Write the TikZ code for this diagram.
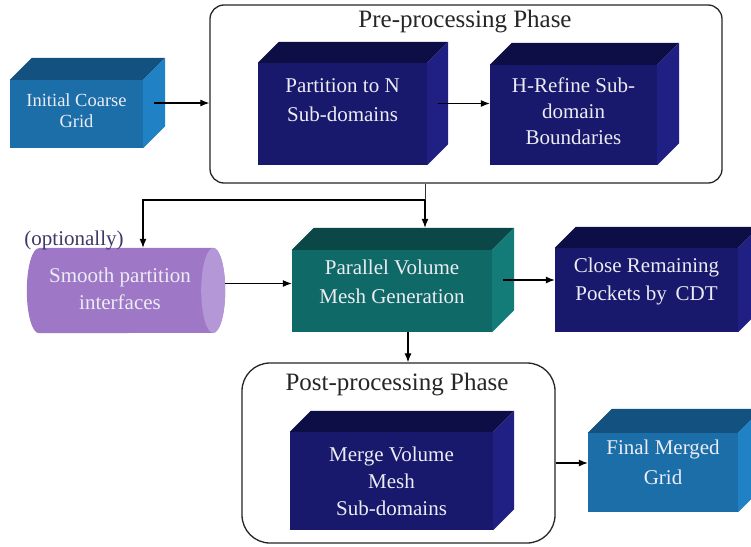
\documentclass[tikz,border=0pt]{standalone}
\usepackage{fontspec}
\setmainfont{Liberation Serif}
\usetikzlibrary{arrows.meta,calc}

% palettes: F = front face, T = top face, S = side face
\definecolor{navyF}{HTML}{18186C}
\definecolor{navyT}{HTML}{0E0E46}
\definecolor{navyS}{HTML}{1F1F84}
\definecolor{tealF}{HTML}{0F6966}
\definecolor{tealT}{HTML}{0A4746}
\definecolor{tealS}{HTML}{137C78}
\definecolor{skyF}{HTML}{1B6EA8}
\definecolor{skyT}{HTML}{135280}
\definecolor{skyS}{HTML}{2082C4}
\definecolor{lilacB}{HTML}{9E78C6}
\definecolor{lilacE}{HTML}{B497D6}
\definecolor{optcol}{HTML}{3E3868}
\definecolor{boxtxt}{HTML}{ECECF4}

% cuboid: name, x, y, width, height, depth, palette
\newcommand\cuboid[7]{%
  \node[face, fill=#7F, minimum width=#4pt, minimum height=#5pt] (#1) at (#2,#3) {};
  \fill[#7T] (#1.north west) -- ++(#6pt,#6pt) -- ([shift={(#6pt,#6pt)}]#1.north east) -- (#1.north east) -- cycle;
  \fill[#7S] (#1.north east) -- ++(#6pt,#6pt) -- ([shift={(#6pt,#6pt)}]#1.south east) -- (#1.south east) -- cycle;
  \coordinate (#1-side) at ([shift={(#6pt/2,#6pt/2)}]#1.east);
  \coordinate (#1-top) at ([shift={(0pt,#6pt)}]#1.north);
}

\tikzset{
  face/.style={rectangle, draw=none, inner sep=0pt},
  lbl/.style={text=boxtxt, align=center, inner sep=0pt, font=\fontsize{21}{28}\selectfont},
  frame/.style={rectangle, draw=black!85, line width=1.3pt, inner sep=0pt},
  title/.style={text=black!85, inner sep=0pt, font=\fontsize{25}{30}\selectfont},
  conn/.style={draw=black, line width=1.1pt, -{Latex[length=9pt,width=7pt]}},
  plain/.style={draw=black!80, line width=1pt},
}

\begin{document}
\begin{tikzpicture}[x=1pt, y=-1pt]
\clip (0,0) rectangle (751,546);
\fill[white] (0,0) rectangle (751,546);

% phase frames
\node[frame, rounded corners=14pt, minimum width=512pt, minimum height=178pt] (pre) at (466,94) {};
\node[title] (pre-title) at (465,22) {Pre-processing Phase};
\node[frame, rounded corners=28pt, minimum width=313pt, minimum height=180pt] (post) at (398.5,453) {};
\node[title] (post-title) at (397,385) {Post-processing Phase};

% blocks
\cuboid{init}{76.5}{114}{133}{68}{22}{sky}
\node[lbl, font=\fontsize{18.5}{21}\selectfont] (init-text) at ([yshift=3pt]init.center) {Initial Coarse\\Grid};

\cuboid{part}{342.5}{114}{169}{102}{21}{navy}
\node[lbl, font=\fontsize{21}{29}\selectfont] (part-text) at ([yshift=14pt]part.center) {Partition to N\\Sub-domains};

\cuboid{href}{573.5}{115}{167}{100}{22}{navy}
\node[lbl, font=\fontsize{21}{26}\selectfont] (href-text) at ([yshift=4pt]href.center) {H-Refine Sub-\\domain\\Boundaries};

\cuboid{par}{392}{291}{200}{82}{22}{teal}
\node[lbl, font=\fontsize{21}{29}\selectfont] (par-text) at ([yshift=9pt]par.center) {Parallel Volume\\Mesh Generation};

\cuboid{close}{646.5}{290}{183}{84}{21}{navy}
\node[lbl] (close-text) at ([yshift=9pt]close.center) {Close Remaining\\Pockets by\, CDT};

\cuboid{merge}{391.5}{481}{203}{98}{21}{navy}
\node[lbl, font=\fontsize{21}{27}\selectfont] (merge-text) at (merge.center) {Merge Volume\\Mesh\\Sub-domains};

\cuboid{final}{663}{472.5}{150}{79}{24}{sky}
\node[lbl, font=\fontsize{21}{30}\selectfont] (final-text) at ([yshift=10pt]final.center) {Final Merged\\Grid};

% horizontal cylinder: body with rounded left end, lighter cap on the right
\node[face, minimum width=198pt, minimum height=85pt] (smooth) at (126,290.5) {};
\fill[lilacB] ([xshift=12pt]smooth.north west) -- ([xshift=-12pt]smooth.north east)
  arc[start angle=90, end angle=-90, x radius=12pt, y radius=42.5pt]
  -- ([xshift=12pt]smooth.south west)
  arc[start angle=270, end angle=90, x radius=12pt, y radius=42.5pt] -- cycle;
\fill[lilacE] ([xshift=-12pt]smooth.east) ellipse [x radius=12pt, y radius=42.5pt];
\node[lbl, font=\fontsize{21}{27}\selectfont] (smooth-text) at (120,288.5) {Smooth partition\\interfaces};
\node[text=optcol, inner sep=0pt, font=\fontsize{21}{25}\selectfont] (opt) at (74,240) {(optionally)};

% connectors
\coordinate (split) at (425,200);
\draw[conn] (init-side) -- (init-side -| pre.west);
\draw[conn] (part-side) -- (part-side -| href.west);
\draw[plain] (pre.south -| split) -- (split);
\draw[conn] (split) -- (split |- par-top);
\draw[conn] (split) -| ([xshift=17pt]smooth.north);
\draw[conn] ([yshift=7pt]smooth.east) -- ([yshift=7pt]smooth.east -| par.west);
\draw[conn] (par-side) -- (par-side -| close.west);
\draw[conn] ([xshift=16pt]par.south) -- ([xshift=16pt]par.south |- post.north);
\draw[conn] ([yshift=-10pt]post.east) -- ([yshift=-10pt]post.east -| final.west);
\end{tikzpicture}
\end{document}
